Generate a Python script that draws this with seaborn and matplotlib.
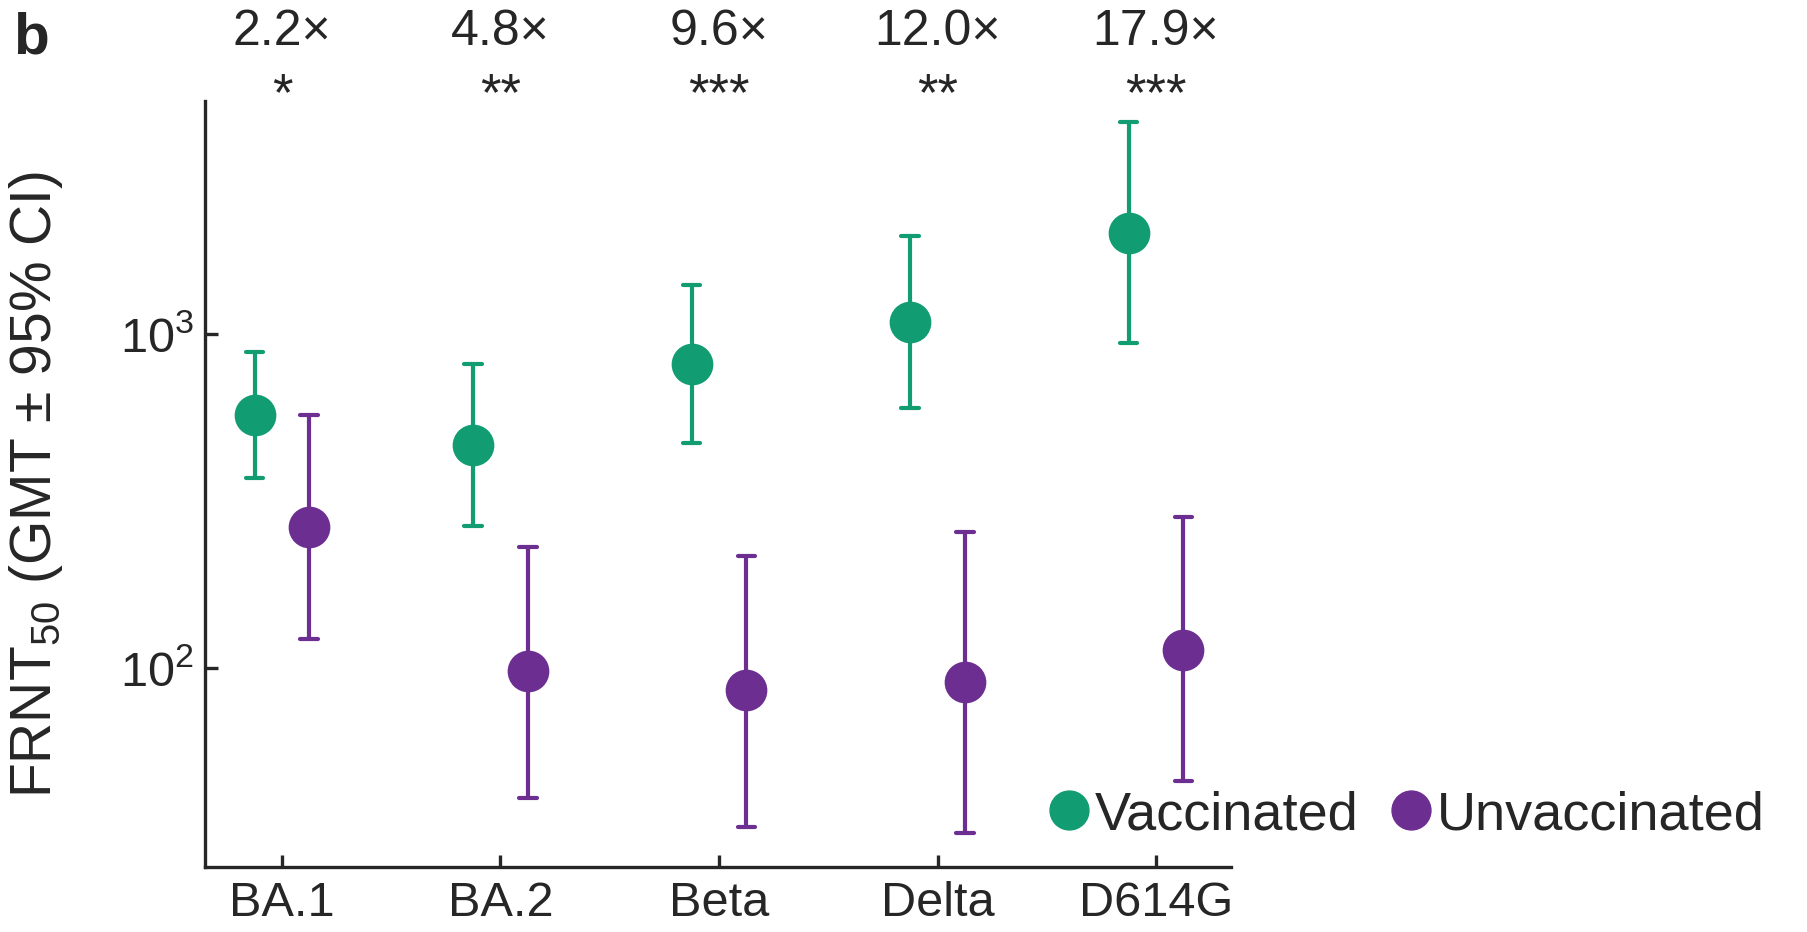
import numpy as np
import pandas as pd
import matplotlib
matplotlib.use("Agg")
import matplotlib.pyplot as plt
from matplotlib.lines import Line2D
import seaborn as sns

# ---- data ----
variants = ["BA.1", "BA.2", "Beta", "Delta", "D614G"]
groups = ["Vaccinated", "Unvaccinated"]
vacc_gmt = [573, 467, 813, 1086, 2014]
vacc_lo = [371, 266, 473, 601, 940]
vacc_hi = [887, 816, 1400, 1963, 4325]
unvacc_gmt = [264, 98, 86, 91, 113]
unvacc_lo = [122, 41, 33.5, 32, 46]
unvacc_hi = [571, 231, 217, 256, 283]
fold_labels = ["2.2×", "4.8×", "9.6×", "12.0×", "17.9×"]
stars = ["*", "**", "***", "**", "***"]
colors = {"Vaccinated": "#119c72", "Unvaccinated": "#6c2e91"}

# long table: lower / estimate / upper per group & variant
rows = []
for g, lo, mid, hi in [("Vaccinated", vacc_lo, vacc_gmt, vacc_hi),
                       ("Unvaccinated", unvacc_lo, unvacc_gmt, unvacc_hi)]:
    for v, a, b, c in zip(variants, lo, mid, hi):
        for val in (a, b, c):
            rows.append({"variant": v, "group": g, "titer": val})
df = pd.DataFrame(rows)

sns.set_style("ticks")
plt.rcParams["font.family"] = ["Liberation Sans", "DejaVu Sans"]
plt.rcParams["mathtext.fontset"] = "custom"
plt.rcParams["mathtext.rm"] = "Liberation Sans"
plt.rcParams["mathtext.it"] = "Liberation Sans:italic"
plt.rcParams["mathtext.bf"] = "Liberation Sans:bold"

W, H = 1807, 932
fig = plt.figure(figsize=(W / 100, H / 100), dpi=100)
ax = fig.add_axes([205 / W, 1 - 867 / H, (1231 - 205) / W, (867 - 101) / H])
ax.set_yscale("log")

sns.pointplot(data=df, x="variant", y="titer", hue="group", order=variants,
              hue_order=groups, palette=colors, estimator="median",
              errorbar=("pi", 100), dodge=0.25, linestyle="none", markers="o",
              markersize=28, capsize=0.08, err_kws={"linewidth": 3.0},
              legend=False, ax=ax)

ax.set_xlim(-0.352, 4.343)
ax.set_ylim(25.4, 4990)
ax.set_yticks([100, 1000])
ax.yaxis.set_minor_locator(matplotlib.ticker.NullLocator())
ax.set_xlabel("")
ax.set_ylabel("FRNT$_{50}$ (GMT ± 95% CI)", fontsize=41)
ax.yaxis.set_label_coords(-0.136, 0.50)

for s in ["top", "right"]:
    ax.spines[s].set_visible(False)
for s in ["left", "bottom"]:
    ax.spines[s].set_linewidth(2.4)
ax.tick_params(axis="both", direction="in", length=9, width=2.4, labelsize=35, pad=10)
ax.tick_params(axis="y", pad=8)

trans = ax.get_xaxis_transform()
for i, (f, st) in enumerate(zip(fold_labels, stars)):
    ax.text(i, 1.09, f, transform=trans, ha="center", va="center", fontsize=36)
    ax.text(i, 1.006, st, transform=trans, ha="center", va="center", fontsize=38)

handles = [Line2D([], [], linestyle="none", marker="o", markersize=28,
                  color=colors[g]) for g in groups]
fig.legend(handles, groups, loc="center left",
           bbox_to_anchor=(1046 / W, 1 - 815 / H), ncol=2, frameon=False,
           fontsize=39, handlelength=0.85, handletextpad=0.05,
           columnspacing=0.55, borderpad=0, borderaxespad=0)

fig.text(13 / W, 1 - 12 / H, "b", fontsize=42, fontweight="bold", va="top", ha="left")

fig.savefig("out.png", dpi=100)
